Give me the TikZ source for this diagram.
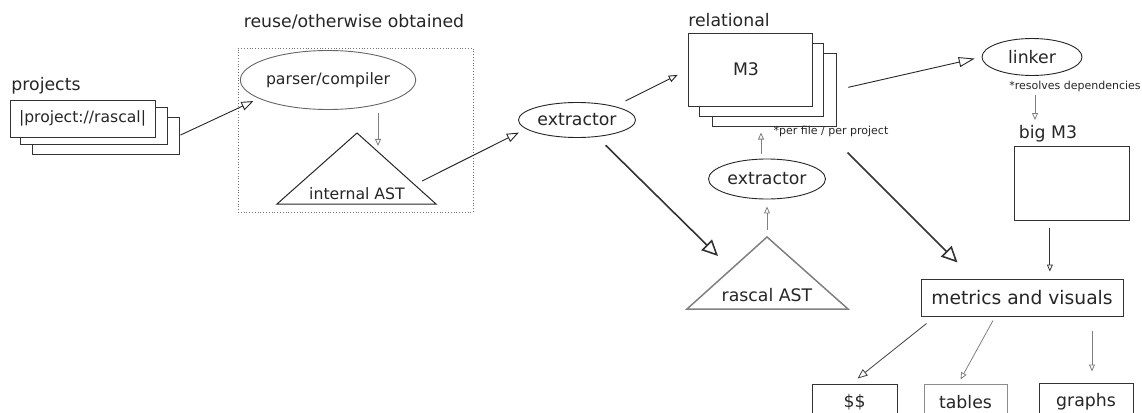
\documentclass[tikz,border=0pt]{standalone}
\usepackage{fontspec}
\setmainfont{DejaVu Sans}
\usetikzlibrary{shapes.geometric,arrows.meta,calc}

\tikzset{
  box/.style={draw=black!80, line width=1pt, fill=white, inner sep=0pt},
  oval/.style={ellipse, draw=black!85, line width=0.9pt, fill=white, inner sep=0pt},
  note/.style={font=\fontsize{11}{13}\selectfont},
  midarr/.style={-{Triangle[open,length=12pt,width=9pt]}, draw=black!85, line width=0.9pt},
  bigarr/.style={-{Triangle[open,length=16pt,width=15pt]}, draw=black!80, line width=1.6pt},
  garr/.style={-{Triangle[open,length=7pt,width=6pt]}, draw=black!50, line width=0.8pt},
}

\begin{document}
\begin{tikzpicture}[x=1pt, y=-1pt,
    every node/.style={font=\fontsize{17.3}{20}\selectfont, text=black!85}]
  \useasboundingbox (0,0) rectangle (1142,412);
  \clip (0,0) rectangle (1142,412);

  % projects
  \node (projlbl) at (46,86) {projects};
  \node[box, minimum width=147, minimum height=37] (proj3) at (105.5,135.5) {};
  \node[box, minimum width=147, minimum height=37] (proj2) at (94,125.5) {};
  \node[box, minimum width=145, minimum height=37, font=\fontsize{15.6}{18}\selectfont] (proj1) at (82.5,118.5) {|project://rascal|};

  % reused front end
  \node (reuselbl) at (354,22) {reuse/otherwise obtained};
  \node[draw=black!55, dotted, line width=0.8pt, minimum width=235, minimum height=164] (reuse) at (355.5,130) {};
  \node[oval, minimum width=158, minimum height=59, draw=black!60, font=\fontsize{15.7}{18}\selectfont] (parser) at (328,80) {parser/compiler};
  \coordinate (iast-top) at (357,133);
  \coordinate (iast-l) at (277,204);
  \coordinate (iast-r) at (436,204);
  \draw[black!85, line width=1pt] (iast-l) -- (iast-top) -- (iast-r) -- cycle;
  \node[font=\fontsize{15.7}{18}\selectfont] (iast) at (357,194) {internal AST};
  \coordinate (iast-out) at (422,181);

  % extraction
  \node[oval, minimum width=117, minimum height=35] (extr) at (577,120) {extractor};
  \coordinate (rast-top) at (767,237);
  \coordinate (rast-l) at (687,309);
  \coordinate (rast-r) at (848,309);
  \draw[black!50, line width=1.5pt] (rast-l) -- (rast-top) -- (rast-r) -- cycle;
  \node (rast) at (767,295) {rascal AST};
  \node[oval, minimum width=117, minimum height=40] (extr2) at (767,179) {extractor};

  % M3 models
  \node (rellbl) at (729,20) {relational};
  \node[box, minimum width=124, minimum height=72] (m3c) at (774,90) {};
  \node[box, minimum width=124, minimum height=72] (m3b) at (761,80) {};
  \node[box, minimum width=124, minimum height=72] (m3a) at (750,70) {};
  \node (m3) at (746,69) {M3};
  \node[note] (perfile) at (831,131) {*per file / per project};

  % linking
  \node[oval, minimum width=100, minimum height=37] (linker) at (1032,57) {linker};
  \node[note] (res) at (1075,86) {*resolves dependencies};
  \node (bigl) at (1048,134) {big M3};
  \node[box, minimum width=115, minimum height=74] (big) at (1071.5,183) {};

  % results
  \node[box, minimum width=202, minimum height=37, font=\fontsize{18.7}{22}\selectfont] (metrics) at (1022,297.5) {metrics and visuals};
  \node[box, minimum width=85, minimum height=37] (dollar) at (854.5,402.5) {\$\$};
  \node[box, draw=black!45, minimum width=83, minimum height=37] (tables) at (965.5,402.5) {tables};
  \node[box, minimum width=94, minimum height=37] (graphs) at (1086,401.5) {graphs};

  % connectors
  \draw[midarr, shorten <=1pt, shorten >=6pt] (proj3.east) -- (parser.195);
  \draw[garr] ($(parser.south)+(50,3)$) -- ($(parser.south)+(50,36)$);
  \draw[midarr, shorten >=8pt] (iast-out) -- (extr.190);
  \draw[midarr, -{Triangle[open,length=9pt,width=7pt]}, shorten <=12pt, shorten >=11pt] (extr.20) -- (m3a.west);
  \draw[bigarr, shorten <=12pt] (extr.-40) -- ($(rast-top)+(-49,19)$);
  \draw[garr, shorten <=7pt, shorten >=7pt] (rast-top) -- (extr2.south);
  \draw[garr, shorten <=5pt, shorten >=6pt] ([xshift=-6pt]extr2.north) -- ([xshift=-6pt]extr2.north |- m3c.south);
  \draw[midarr, -{Triangle[open,length=16pt,width=10pt]}, shorten <=12pt, shorten >=7pt] (m3c.east) -- (linker.west);
  \draw[garr, shorten >=2pt] ([xshift=3pt]linker.south |- res.south) -- ([xshift=3pt]linker.south |- bigl.north);
  \draw[garr, draw=black!80, shorten <=7pt, shorten >=7pt] (big.240) -- (big.240 |- metrics.north);
  \draw[bigarr] ($(m3c.south east)+(11,26)$) -- ($(metrics.north west)+(37,-16)$);
  \draw[garr, draw=black!75, -{Triangle[open,length=10pt,width=8pt]}] ($(metrics.south west)+(6,7)$) -- ($(dollar.north)+(3,-5)$);
  \draw[garr] ($(metrics.south)+(-29,4)$) -- ($(tables.north)+(-5,-4)$);
  \draw[garr] ($(metrics.south -| graphs.north)+(6,14)$) -- ($(graphs.north)+(6,-11)$);
\end{tikzpicture}
\end{document}
